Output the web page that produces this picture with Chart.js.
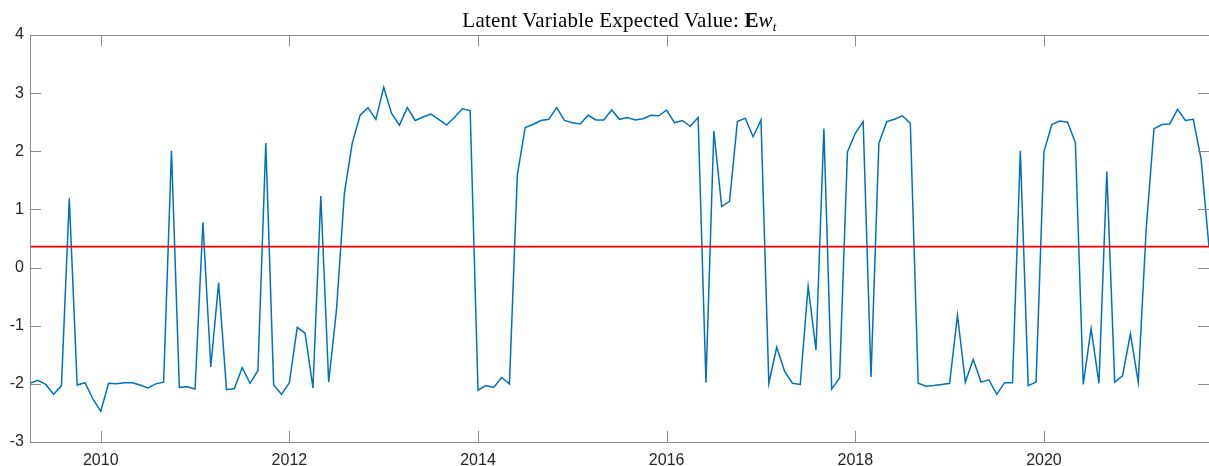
<!DOCTYPE html>
<html>
<head>
<meta charset="utf-8">
<script src="https://cdn.jsdelivr.net/npm/chart.js@4/dist/chart.umd.min.js"></script>
<style>
  html, body { margin: 0; padding: 0; background: #ffffff; }
  #wrap { position: relative; width: 1209px; height: 466px; overflow: hidden; }
  #c { display: block; }
  #title {
    position: absolute; left: 30px; top: 10px; width: 1179px;
    text-align: center; line-height: 20px;
    font-family: "Liberation Serif", "DejaVu Serif", serif; font-size: 21px; color: #000;
    white-space: nowrap; letter-spacing: 0.2px;
  }
  #title sub { font-size: 13px; vertical-align: -4px; line-height: 0; }
</style>
</head>
<body>
<div id="wrap">
  <canvas id="c" width="1209" height="466"></canvas>
  <div id="title">Latent Variable Expected Value: <b>E</b><i>w</i><sub><i>t</i></sub></div>
</div>
<script>
// ---- data (monthly, starting April 2009) ----
const START_YEAR = 2009;
const START_MONTH = 4;
const values = [
  -1.99, -1.94, -2.01, -2.18, -2.03,  1.19, -2.02, -1.98, -2.26, -2.47,
  -1.99, -2.00, -1.98, -1.98, -2.02, -2.07, -2.00, -1.97,  2.01, -2.06,
  -2.05, -2.09,  0.78, -1.71, -0.26, -2.10, -2.08, -1.72, -1.99, -1.77,
   2.14, -2.02, -2.18, -1.98, -1.03, -1.13, -2.07,  1.23, -1.97, -0.72,
   1.28,  2.14,  2.62,  2.75,  2.55,  3.10,  2.65,  2.45,  2.75,  2.53,
   2.59,  2.64,  2.55,  2.45,  2.58,  2.73,  2.70, -2.11, -2.03, -2.06,
  -1.89, -2.00,  1.59,  2.41,  2.46,  2.53,  2.55,  2.75,  2.53,  2.49,
   2.47,  2.62,  2.54,  2.54,  2.71,  2.55,  2.58,  2.54,  2.56,  2.62,
   2.61,  2.71,  2.49,  2.53,  2.43,  2.58, -1.98,  2.35,  1.05,  1.14,
   2.51,  2.57,  2.25,  2.54, -1.99, -1.37, -1.78, -1.99, -2.01, -0.32,
  -1.42,  2.39, -2.09, -1.90,  1.99,  2.31,  2.51, -1.88,  2.14,  2.51,
   2.55,  2.61,  2.48, -1.99, -2.04, -2.03, -2.01, -1.99, -0.82, -1.97,
  -1.58, -1.97, -1.93, -2.18, -1.98, -1.98,  2.01, -2.03, -1.97,  1.99,
   2.46,  2.52,  2.50,  2.15, -2.01, -1.05, -1.99,  1.65, -1.97, -1.86,
  -1.14, -1.97,  0.65,  2.39,  2.46,  2.47,  2.72,  2.53,  2.55,  1.86,
   0.35
];
const THRESHOLD = 0.36;
const tickYears = ['2010', '2012', '2014', '2016', '2018', '2020'];
const yTicks = [-3, -2, -1, 0, 1, 2, 3, 4];

// month category labels
const months = [];
for (let k = 0; k < values.length; k++) {
  const m0 = START_MONTH - 1 + k;
  const yr = START_YEAR + Math.floor(m0 / 12);
  const mo = (m0 % 12) + 1;
  months.push(yr + '-' + String(mo).padStart(2, '0'));
}

const AXIS_COLOR = '#8c8c8c';
const LABEL_COLOR = '#262626';
const FONT = { family: 'Helvetica, Arial, "Liberation Sans", sans-serif', size: 16 };
const TICK_LEN = 11;

const framePlugin = {
  id: 'frame',
  afterDraw(chart) {
    const { ctx, chartArea: a } = chart;
    const xs = chart.scales.x, ys = chart.scales.y;
    ctx.save();
    ctx.strokeStyle = AXIS_COLOR;
    ctx.lineWidth = 1;
    ctx.beginPath();
    ctx.rect(a.left + 0.5, a.top + 0.5, a.right - a.left, a.bottom - a.top);
    xs.ticks.forEach(t => {
      const px = Math.round(xs.getPixelForValue(t.value)) + 0.5;
      ctx.moveTo(px, a.bottom); ctx.lineTo(px, a.bottom - TICK_LEN);
      ctx.moveTo(px, a.top); ctx.lineTo(px, a.top + TICK_LEN);
    });
    ys.ticks.forEach(t => {
      const py = Math.round(ys.getPixelForValue(t.value)) + 0.5;
      ctx.moveTo(a.left, py); ctx.lineTo(a.left + TICK_LEN, py);
      ctx.moveTo(a.right, py); ctx.lineTo(a.right - TICK_LEN, py);
    });
    ctx.stroke();
    ctx.restore();
  }
};

new Chart(document.getElementById('c'), {
  type: 'line',
  data: {
    labels: months,
    datasets: [
      {
        data: values,
        borderColor: '#0072BD',
        borderWidth: 1.5,
        pointRadius: 0,
        tension: 0,
        order: 1
      },
      {
        data: [{ x: months[0], y: THRESHOLD }, { x: months[months.length - 1], y: THRESHOLD }],
        borderColor: '#FF0000',
        borderWidth: 1.6,
        pointRadius: 0,
        tension: 0,
        order: 0
      }
    ]
  },
  options: {
    responsive: false,
    animation: false,
    devicePixelRatio: 1,
    layout: { padding: { top: 35, left: 0, right: 0, bottom: 0 } },
    plugins: { legend: { display: false }, tooltip: { enabled: false }, title: { display: false } },
    scales: {
      x: {
        type: 'category',
        offset: false,
        grid: { display: false, drawTicks: false },
        border: { display: false },
        afterBuildTicks: s => {
          s.ticks = s.ticks.filter(t => tickYears.some(y => months[t.value] === y + '-01'));
        },
        ticks: {
          autoSkip: false, maxRotation: 0, minRotation: 0, padding: 9,
          color: LABEL_COLOR, font: FONT,
          callback: v => months[v].slice(0, 4)
        },
        afterFit: s => { s.height = 24; }
      },
      y: {
        min: -3, max: 4,
        afterBuildTicks: s => { s.ticks = yTicks.map(v => ({ value: v })); },
        grid: { display: false, drawTicks: false },
        border: { display: false },
        ticks: { padding: 6, color: LABEL_COLOR, font: FONT },
        afterFit: s => { s.width = 30; }
      }
    }
  },
  plugins: [framePlugin]
});
</script>
</body>
</html>
